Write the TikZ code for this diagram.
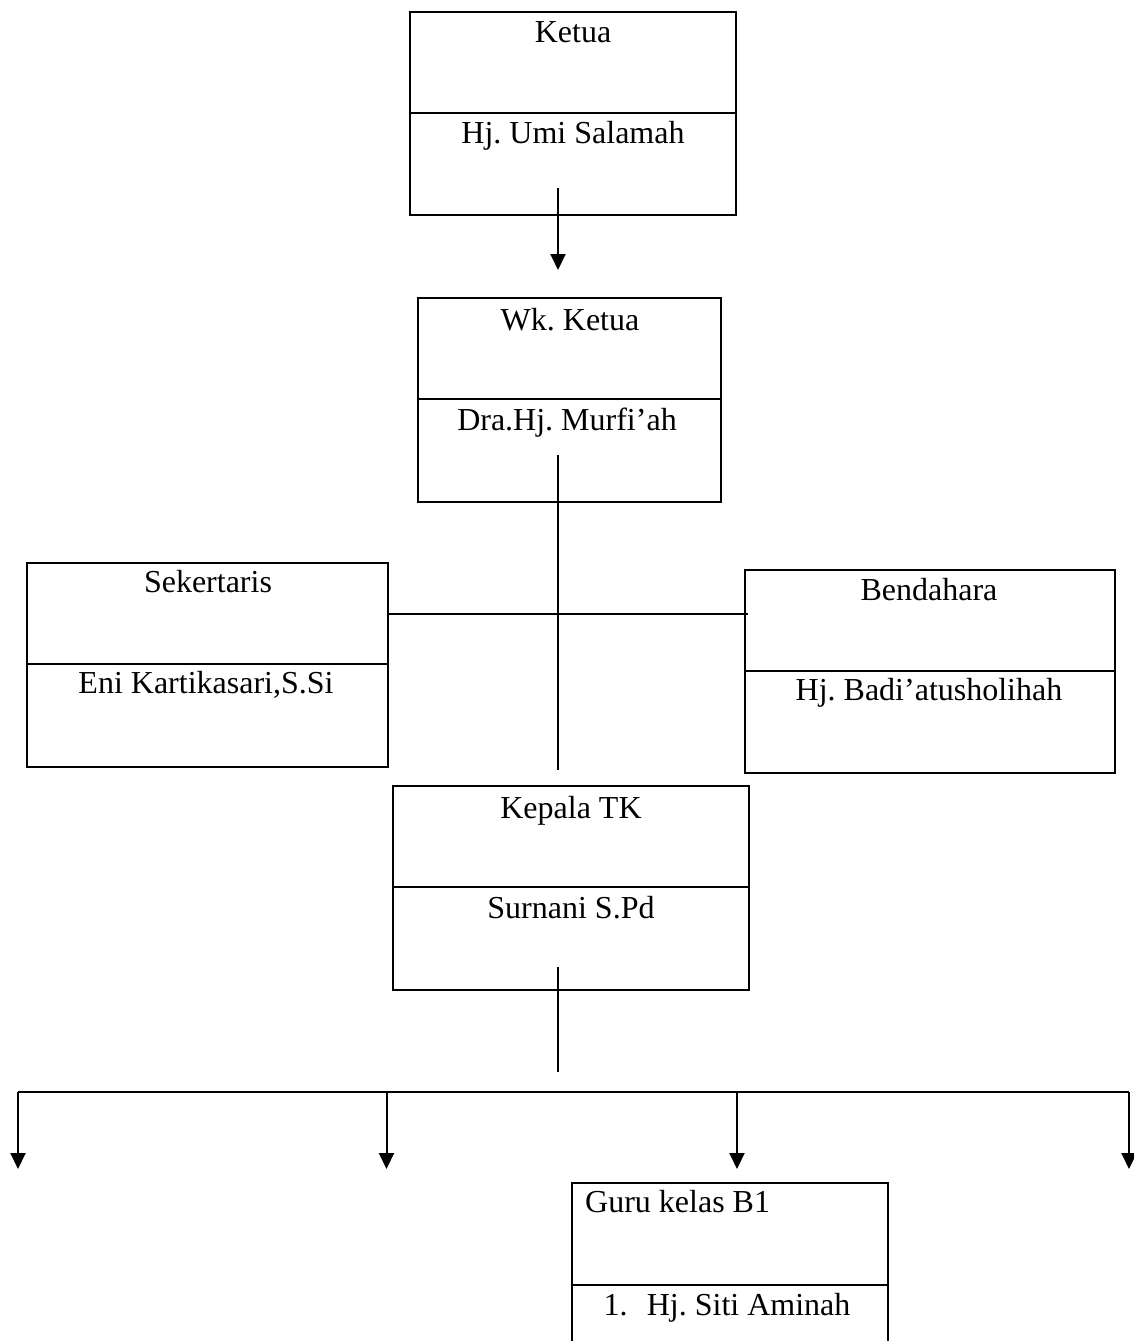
\documentclass[tikz,border=0pt]{standalone}
\usepackage{fontspec}
\setmainfont{Liberation Serif}
\usetikzlibrary{arrows.meta}
\frenchspacing
\begin{document}
\begin{tikzpicture}[x=1pt,y=-1pt,
  box/.style={draw,line width=2pt,inner sep=0pt},
  lbl/.style={anchor=base,inner sep=0pt,font=\fontsize{32}{38}\selectfont},
  ln/.style={line width=2pt},
  arr/.style={line width=2pt,-{Triangle[width=15pt,length=16pt]}}]
\useasboundingbox (0,0) rectangle (1134,1341);
% Ketua
\node[box,minimum width=326,minimum height=203] (ketua) at (573,113.5) {};
\coordinate (kd1) at (410,113); \coordinate (kd2) at (736,113);
\draw[ln] (kd1) -- (kd2);
\node[lbl] (ketuaA) at (573,42) {Ketua};
\node[lbl] (ketuaB) at (573,143) {Hj. Umi Salamah};
% Wk Ketua
\node[box,minimum width=303,minimum height=204] (wk) at (569.5,400) {};
\coordinate (wd1) at (418,399); \coordinate (wd2) at (721,399);
\draw[ln] (wd1) -- (wd2);
\node[lbl] (wkA) at (570,330) {Wk. Ketua};
\node[lbl] (wkB) at (567,430) {Dra.Hj. Murfi’ah};
% Sekertaris
\node[box,minimum width=361,minimum height=204] (sek) at (207.5,665) {};
\coordinate (sd1) at (27,664); \coordinate (sd2) at (388,664);
\draw[ln] (sd1) -- (sd2);
\node[lbl] (sekA) at (208,592) {Sekertaris};
\node[lbl] (sekB) at (206,693) {Eni Kartikasari,S.Si};
% Bendahara
\node[box,minimum width=370,minimum height=203] (ben) at (930,671.5) {};
\coordinate (bd1) at (745,671); \coordinate (bd2) at (1115,671);
\draw[ln] (bd1) -- (bd2);
\node[lbl] (benA) at (929,600) {Bendahara};
\node[lbl] (benB) at (929,700) {Hj. Badi’atusholihah};
% Kepala TK
\node[box,minimum width=356,minimum height=204] (kep) at (571,888) {};
\coordinate (pd1) at (393,887); \coordinate (pd2) at (749,887);
\draw[ln] (pd1) -- (pd2);
\node[lbl] (kepA) at (571,818) {Kepala TK};
\node[lbl] (kepB) at (571,918) {Surnani S.Pd};
% Guru kelas B1 (cut by lower edge)
\coordinate (g1) at (572,1345); \coordinate (g2) at (572,1183);
\coordinate (g3) at (888,1183); \coordinate (g4) at (888,1345);
\draw[ln] (g1) -- (g2) -- (g3) -- (g4);
\coordinate (gd1) at (572,1285); \coordinate (gd2) at (888,1285);
\draw[ln] (gd1) -- (gd2);
\node[lbl,anchor=base west] (guruA) at (585,1212) {Guru kelas B1};
\node[lbl] (guruB) at (727,1315) {1.\hspace{0.6em}Hj. Siti Aminah};
% connectors
\coordinate (a1) at (558,188); \coordinate (a2) at (558,270);
\draw[arr] (a1) -- (a2);
\coordinate (v1) at (558,455); \coordinate (v2) at (558,770);
\draw[ln] (v1) -- (v2);
\coordinate (h1) at (387,614); \coordinate (h2) at (748,614);
\draw[ln] (h1) -- (h2);
\coordinate (c1) at (558,967); \coordinate (c2) at (558,1072);
\draw[ln] (c1) -- (c2);
\coordinate (b1) at (18,1092); \coordinate (b2) at (386.5,1092);
\coordinate (b3) at (737,1092); \coordinate (b4) at (1129,1092);
\draw[ln] (b1) -- (b4);
\coordinate (t1) at (18,1169); \coordinate (t2) at (386.5,1169);
\coordinate (t3) at (737,1169); \coordinate (t4) at (1129,1169);
\foreach \i in {1,2,3,4}{\draw[arr] (b\i) -- (t\i);}
\end{tikzpicture}
\end{document}
